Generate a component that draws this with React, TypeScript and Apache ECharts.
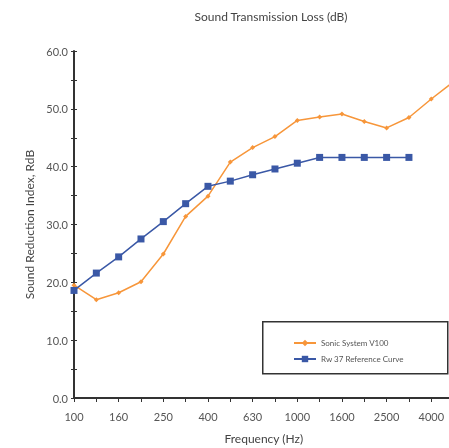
import React, { useEffect, useRef } from "react";
import * as echarts from "echarts";

const frequencies = ["100", "125", "160", "200", "250", "315", "400", "500", "630", "800", "1000", "1250", "1600", "2000", "2500", "3150", "4000", "5000"];
const sonicSystem = [19.5, 17.0, 18.2, 20.1, 24.9, 31.4, 34.9, 40.8, 43.3, 45.2, 48.0, 48.6, 49.1, 47.8, 46.7, 48.5, 51.7, 54.7];
const rwReference = [18.6, 21.6, 24.4, 27.5, 30.5, 33.6, 36.6, 37.5, 38.6, 39.6, 40.6, 41.6, 41.6, 41.6, 41.6, 41.6, null, null];

const FONT = "Lato, 'Open Sans', sans-serif";

export default function App() {
  const ref = useRef<HTMLDivElement>(null);
  useEffect(() => {
    if (!ref.current) return;
    const chart = echarts.init(ref.current, null, { renderer: "svg" });
    chart.setOption({
      animation: false,
      textStyle: { fontFamily: FONT },
      title: {
        text: "Sound Transmission Loss (dB)",
        left: 266,
        top: 5,
        textAlign: "center",
        textStyle: { fontSize: 12, fontWeight: "normal", color: "#444", fontFamily: FONT },
      },
      grid: { left: 74, width: 379.6, top: 51, height: 347, containLabel: false, outerBoundsMode: "none" },
      xAxis: {
        type: "category",
        data: frequencies,
        boundaryGap: false,
        name: "Frequency (Hz)",
        nameLocation: "middle",
        nameGap: 34,
        nameTextStyle: { fontSize: 12, color: "#444", fontFamily: FONT },
        axisLine: { lineStyle: { color: "#333", width: 2 } },
        axisTick: { show: true, interval: 0, length: 4, lineStyle: { color: "#333", width: 1 } },
        axisLabel: { interval: 1, margin: 13, fontSize: 11, color: "#555", fontFamily: FONT },
        splitLine: { show: false },
      },
      yAxis: [
        {
          type: "value",
          min: 0,
          max: 60,
          interval: 5,
          name: "Sound Reduction Index, RdB",
          nameLocation: "middle",
          nameGap: 36,
          nameTextStyle: { fontSize: 12, color: "#444", fontFamily: FONT },
          axisLine: { show: true, lineStyle: { color: "#333", width: 2 } },
          axisTick: { show: true, length: 3, lineStyle: { color: "#333", width: 1 } },
          axisLabel: {
            margin: 6,
            fontSize: 11,
            color: "#555",
            fontFamily: FONT,
            formatter: (v: number) => (v % 10 === 0 ? v.toFixed(1) : ""),
          },
          splitLine: { show: false },
        },
        {
          type: "value",
          min: 0,
          max: 60,
          interval: 5,
          position: "left",
          axisLine: { show: false },
          axisTick: { show: true, inside: true, length: 3, lineStyle: { color: "#333", width: 1 } },
          axisLabel: { show: false },
          splitLine: { show: false },
        },
      ],
      legend: {
        orient: "vertical",
        left: 288,
        top: 334,
        itemWidth: 22,
        itemHeight: 8,
        itemGap: 8,
        textStyle: { fontSize: 8, color: "#555", fontFamily: FONT },
        data: ["Sonic System V100", "Rw 37 Reference Curve"],
        z: 10,
      },
      graphic: [
        {
          type: "rect",
          left: 262,
          top: 321,
          shape: { width: 185, height: 52 },
          style: { fill: "#fff", stroke: "#333", lineWidth: 1.5 },
          z: 5,
        },
      ],
      series: [
        {
          name: "Sonic System V100",
          type: "line",
          data: sonicSystem,
          yAxisIndex: 0,
          symbol: "diamond",
          symbolSize: 5,
          color: "#F7963A",
          lineStyle: { width: 1.5, color: "#F7963A" },
          itemStyle: { color: "#F7963A" },
          z: 2,
        },
        {
          name: "Rw 37 Reference Curve",
          type: "line",
          data: rwReference,
          yAxisIndex: 0,
          symbol: "rect",
          symbolSize: 7,
          color: "#3A58A6",
          lineStyle: { width: 1.5, color: "#3A58A6" },
          itemStyle: { color: "#3A58A6" },
          z: 3,
        },
      ],
    });
    return () => chart.dispose();
  }, []);
  return <div ref={ref} style={{ position: "fixed", left: 0, top: 0, width: 449, height: 448 }} />;
}
